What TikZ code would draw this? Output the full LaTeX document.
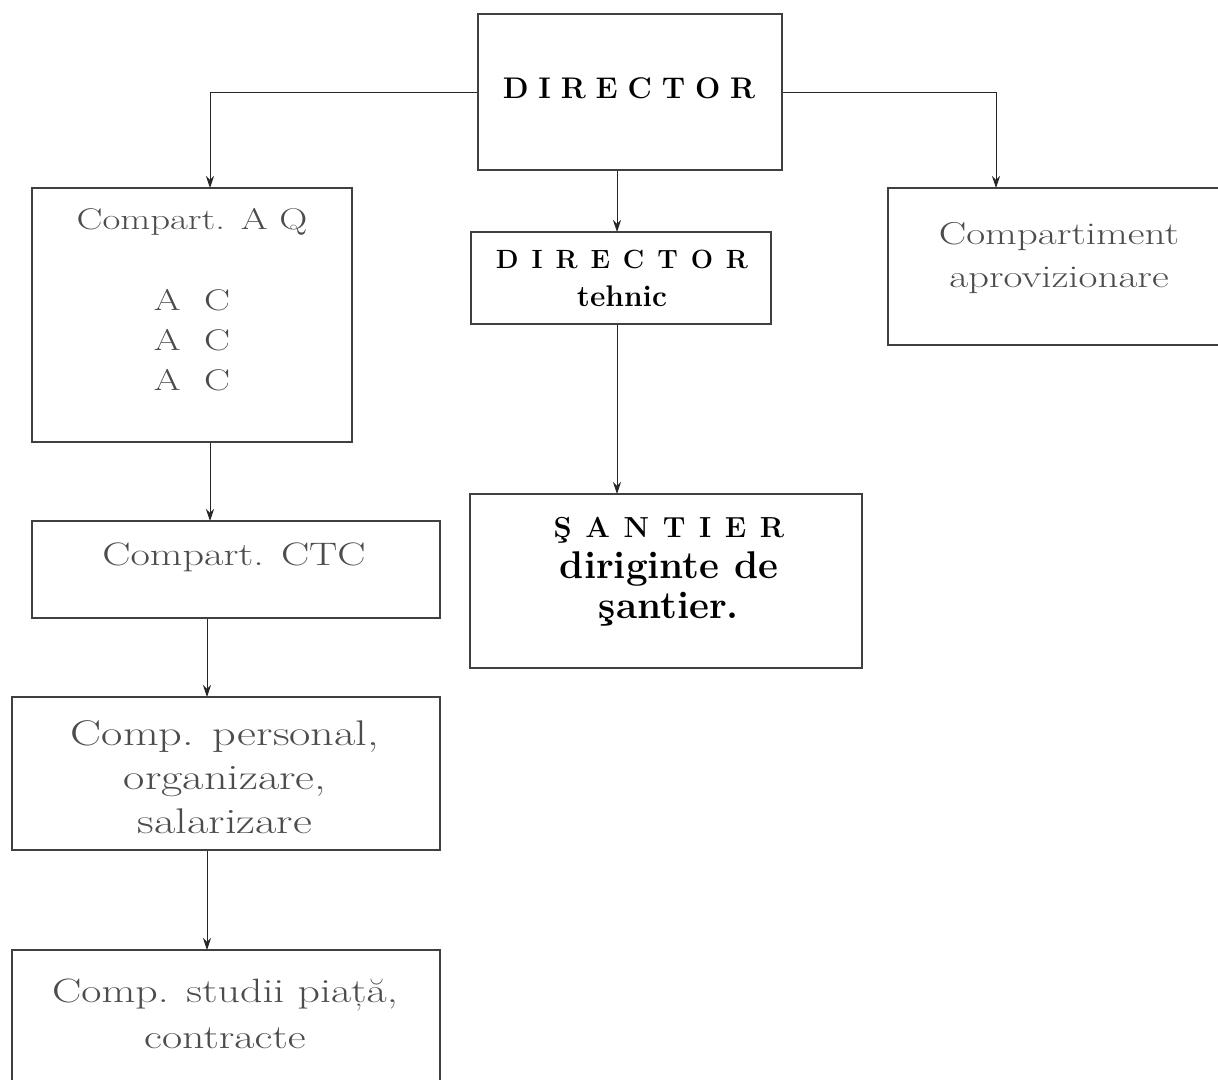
\documentclass[tikz,border=0pt]{standalone}
\usepackage{fontspec}
\setmainfont{Latin Modern Roman}
\newfontfamily\litefont{Latin Modern Roman}[FakeStretch=1.3]
\usepackage{tikz}
\usetikzlibrary{arrows.meta}
\tikzstyle{box}=[draw=black!75, rectangle, line width=0.9pt, inner sep=0pt]
\tikzstyle{arr}=[->, >={Stealth[length=2.4mm,width=1.6mm]}, line width=0.5pt, black!85]
\tikzstyle{lite}=[align=center, text=black!70]

\begin{document}
\begin{tikzpicture}
  \useasboundingbox (0,0) rectangle (24.36,-21.6);
  \clip (0,0) rectangle (24.36,-21.6);

  % boxes
  \node[box, minimum width=6.08cm, minimum height=3.12cm] (dir) at (12.6,-1.84) {};
  \node[box, minimum width=6.4cm, minimum height=5.08cm] (aq) at (3.84,-6.3) {};
  \node[box, minimum width=6.0cm, minimum height=1.84cm] (dt) at (12.42,-5.56) {};
  \node[box, minimum width=6.84cm, minimum height=3.14cm] (apr) at (21.18,-5.33) {};
  \node[box, minimum width=8.16cm, minimum height=1.94cm] (ctc) at (4.72,-11.39) {};
  \node[box, minimum width=7.84cm, minimum height=3.48cm] (san) at (13.32,-11.62) {};
  \node[box, minimum width=8.56cm, minimum height=3.06cm] (pers) at (4.52,-15.47) {};
  \node[box, minimum width=8.56cm, minimum height=3.0cm] (stud) at (4.52,-20.5) {};

  % texts
  \node[font=\bfseries\fontsize{17}{20}\selectfont] (dirt) at (12.58,-1.76)
  {\spaceskip=0.33em\relax D I R E C T O R};
  \node[align=center, font=\bfseries\fontsize{17}{21.6}\selectfont] (dtt) at (12.44,-5.57)
  {{\fontsize{15}{21.6}\selectfont\spaceskip=0.49em\relax D I R E C T O R}\\ tehnic};
  \node[align=center, font=\bfseries\fontsize{22}{23}\selectfont] (sant) at (13.38,-11.44)
  {{\fontsize{16.5}{23}\selectfont\spaceskip=0.47em\relax Ş A N T I E R}\\ diriginte de\\ şantier.};
  \node[lite, font=\litefont\fontsize{17}{23}\selectfont] (aqt) at (3.84,-6.0)
  {Compart. A Q\\[0.8cm] A~~C\\ A~~C\\ A~~C};
  \node[lite, font=\litefont\fontsize{18}{24}\selectfont] (aprt) at (21.18,-5.16)
  {Compartiment\\ aprovizionare};
  \node[lite, font=\litefont\fontsize{18.5}{24}\selectfont] (ctct) at (4.68,-11.14)
  {Compart. CTC};
  \node[lite, font=\litefont\fontsize{20.3}{25}\selectfont] (perst) at (4.5,-15.54)
  {Comp. personal,\\ organizare,\\ salarizare};
  \node[lite, font=\litefont\fontsize{19.2}{26}\selectfont] (studt) at (4.5,-20.28)
  {Comp. studii piață,\\ contracte};

  % entry points
  \coordinate (aqin) at (4.2,-3.76);
  \coordinate (aprin) at (19.92,-3.76);
  \coordinate (dtin) at (12.34,-4.64);
  \coordinate (sanin) at (12.34,-9.88);
  \coordinate (ctcin) at (4.2,-10.42);
  \coordinate (persin) at (4.14,-13.94);
  \coordinate (studin) at (4.14,-19.0);

  % connectors
  \draw[arr] (dir.west) -| (aqin);
  \draw[arr] (dir.east) -| (aprin);
  \draw[arr] (dir.south -| dtin) -- (dtin);
  \draw[arr] (dt.south -| sanin) -- (sanin);
  \draw[arr] (aq.south -| ctcin) -- (ctcin);
  \draw[arr] (ctc.south -| persin) -- (persin);
  \draw[arr] (pers.south -| studin) -- (studin);
\end{tikzpicture}
\end{document}
